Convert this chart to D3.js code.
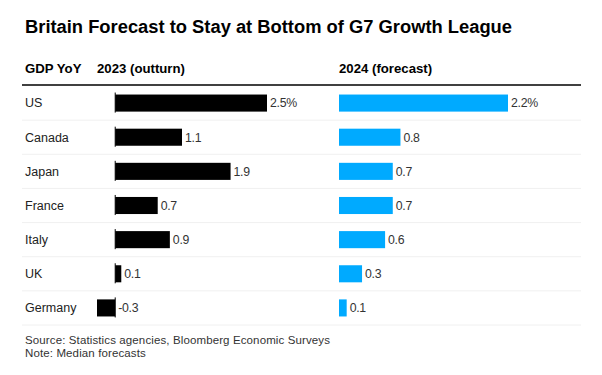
<!DOCTYPE html>
<html><head><meta charset="utf-8">
<script src="https://cdn.jsdelivr.net/npm/d3@7"></script>
<style>
body{margin:0;background:#fff;}
text{font-family:"Liberation Sans",Arial,sans-serif;}
</style></head>
<body><svg id="c" width="602" height="375"></svg>
<script>
const countries = ["US","Canada","Japan","France","Italy","UK","Germany"];
const gdp2023 = [2.5,1.1,1.9,0.7,0.9,0.1,-0.3];
const gdp2024 = [2.2,0.8,0.7,0.7,0.6,0.3,0.1];
const headers = ["GDP YoY","2023 (outturn)","2024 (forecast)"];
const title = "Britain Forecast to Stay at Bottom of G7 Growth League";
const notes = ["Source: Statistics agencies, Bloomberg Economic Surveys","Note: Median forecasts"];

const svg = d3.select("#c");
svg.append("rect").attr("width",602).attr("height",375).attr("fill","#fff");

svg.append("text").attr("x",25).attr("y",33).attr("font-size",17.5).attr("font-weight","bold")
  .attr("fill","#000").attr("textLength",487).attr("lengthAdjust","spacingAndGlyphs").text(title);

const y = d3.scaleBand().domain(countries).range([86,325]).paddingInner(0.5).paddingOuter(0.25);
const xL = d3.scaleLinear().domain([d3.min(gdp2023),d3.max(gdp2023)]).range([97,267]);
const xR = d3.scaleLinear().domain([0,d3.max(gdp2024)]).range([339,508]);

// headers
const hx = [25, xL.range()[0], xR.range()[0]];
headers.forEach((h,i)=>{
  svg.append("text").attr("x",hx[i]).attr("y",72.5).attr("font-size",13.2).attr("font-weight","bold")
    .attr("fill","#000").text(h);
});
svg.append("line").attr("x1",22).attr("x2",581).attr("y1",85).attr("y2",85)
  .attr("stroke","#000").attr("stroke-width",1.5);

const step = y.step(), bw = y.bandwidth();
// separators
svg.selectAll(".sep").data(countries).join("line")
  .attr("x1",22).attr("x2",581)
  .attr("y1",d=>y(d)+bw+step*0.25).attr("y2",d=>y(d)+bw+step*0.25)
  .attr("stroke","#f0f0f0").attr("stroke-width",1);

// category labels
svg.selectAll(".cat").data(countries).join("text")
  .attr("x",25).attr("y",d=>y(d)+bw/2).attr("dy","0.35em")
  .attr("font-size",12.5).attr("fill","#222").text(d=>d);

const fmt = (v,i)=> i===0 ? v.toFixed(1)+"%" : String(v);

// left bars
svg.selectAll(".bl").data(gdp2023).join("rect")
  .attr("x",v=>xL(Math.min(0,v))).attr("width",v=>Math.abs(xL(v)-xL(0)))
  .attr("y",(v,i)=>y(countries[i])).attr("height",bw).attr("fill","#000");
svg.selectAll(".zl").data(countries).join("line")
  .attr("x1",xL(0)).attr("x2",xL(0))
  .attr("y1",d=>y(d)-2).attr("y2",d=>y(d)+bw+1)
  .attr("stroke","#000").attr("stroke-width",1);
svg.selectAll(".vl").data(gdp2023).join("text")
  .attr("x",v=>xL(Math.max(0,v))+3).attr("y",(v,i)=>y(countries[i])+bw/2).attr("dy","0.35em")
  .attr("font-size",12.3).attr("fill","#333").attr("letter-spacing",-0.3).text(fmt);

// right bars
svg.selectAll(".br").data(gdp2024).join("rect")
  .attr("x",v=>xR(Math.min(0,v))).attr("width",v=>Math.abs(xR(v)-xR(0)))
  .attr("y",(v,i)=>y(countries[i])).attr("height",bw).attr("fill","#00aaff");
svg.selectAll(".vr").data(gdp2024).join("text")
  .attr("x",v=>xR(Math.max(0,v))+3).attr("y",(v,i)=>y(countries[i])+bw/2).attr("dy","0.35em")
  .attr("font-size",12.3).attr("fill","#333").attr("letter-spacing",-0.3).text(fmt);

// notes
notes.forEach((n,i)=>{
  svg.append("text").attr("x",25).attr("y",344+i*13.2).attr("font-size",11.5)
    .attr("letter-spacing",0.12).attr("fill","#333").text(n);
});
</script></body></html>
